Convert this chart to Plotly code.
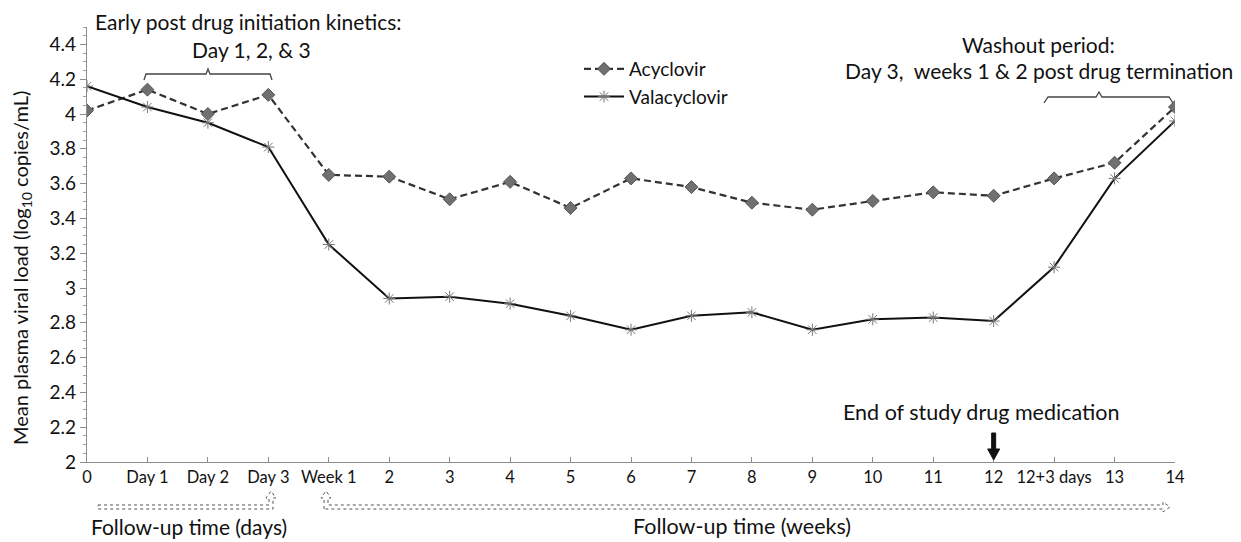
import plotly.graph_objects as go

categories = ["0", "Day 1", "Day 2", "Day 3", "Week 1", "2", "3", "4", "5", "6", "7",
              "8", "9", "10", "11", "12", "12+3 days", "13", "14"]
acyclovir = [4.02, 4.14, 4.00, 4.11, 3.65, 3.64, 3.51, 3.61, 3.46, 3.63, 3.58,
             3.49, 3.45, 3.50, 3.55, 3.53, 3.63, 3.72, 4.04]
valacyclovir = [4.16, 4.04, 3.95, 3.81, 3.25, 2.94, 2.95, 2.91, 2.84, 2.76, 2.84,
                2.86, 2.76, 2.82, 2.83, 2.81, 3.12, 3.63, 3.96]
end_of_medication = "12"

OX, OY = 7, 6  # page offset of the figure
W, H = 1241 - OX, 542 - OY
L, R, T, B = 86, 1174, 25, 460  # page pixel positions of plot area

def px(X):
    return (X - L) / (R - L)

def py(Y):
    return (B - Y) / (B - T)

FONT = "Lato"
fig = go.Figure()
fig.add_trace(go.Scatter(
    x=categories, y=acyclovir, name="Acyclovir", mode="lines+markers",
    line=dict(color="#333333", width=2.2, dash="7px,4px"),
    marker=dict(symbol="diamond", size=10, color="#707070",
                line=dict(color="#555555", width=1))))
fig.add_trace(go.Scatter(
    x=categories, y=valacyclovir, name="Valacyclovir", mode="lines+markers",
    line=dict(color="#111111", width=2),
    marker=dict(symbol="asterisk-open", size=10, color="#777777",
                line=dict(color="#777777", width=1))))

def path(points, close=False):
    s = "M " + " L ".join(f"{px(x):.5f},{py(y):.5f}" for x, y in points)
    return s + (" Z" if close else "")

shapes = []
shapes.append(dict(type="path", xref="paper", yref="paper",
                   path=path([(143, 78), (145, 72), (205, 72), (207, 67), (209, 72), (269, 72), (271, 78)]),
                   line=dict(color="#444444", width=1.3)))
shapes.append(dict(type="path", xref="paper", yref="paper",
                   path=path([(1043, 101), (1047, 95), (1095, 95), (1098, 90), (1101, 95), (1168, 95), (1172, 101)]),
                   line=dict(color="#444444", width=1.3)))
left_arrow = [(97, 503), (268, 503), (268, 496), (265, 496), (270, 489), (275, 496),
              (272, 496), (272, 507), (97, 507)]
right_arrow = [(323, 507), (323, 496), (320, 496), (325, 489), (330, 496), (327, 496),
               (327, 503), (1162, 503), (1162, 500), (1169, 505), (1162, 510), (1162, 507)]
for pts in (left_arrow, right_arrow):
    shapes.append(dict(type="path", xref="paper", yref="paper", path=path(pts, close=True),
                       line=dict(color="#555555", width=1, dash="dot")))

# thick down arrow pointing at end of medication tick
step = (R - L) / (len(categories) - 1)
xi = categories.index(end_of_medication)
def ax_pt(dx_px, Y):
    return f"{xi + dx_px / step:.5f},{py(Y):.5f}"
arrow_pts = [(-2, 431), (2, 431), (2, 447), (6, 447), (0, 458), (-6, 447), (-2, 447)]
shapes.append(dict(type="path", xref="x", yref="paper",
                   path="M " + " L ".join(ax_pt(a, b) for a, b in arrow_pts) + " Z",
                   fillcolor="#111111", line=dict(color="#111111", width=1)))

annotations = [
    dict(text="Early post drug initiation kinetics:", x=px(247), y=py(20), font=dict(size=21)),
    dict(text="Day 1, 2, & 3", x=px(250), y=py(48), font=dict(size=21)),
    dict(text="Washout period:", x=px(1037), y=py(42), font=dict(size=21)),
    dict(text="Day 3,  weeks 1 & 2 post drug termination", x=px(1038), y=py(68), font=dict(size=21)),
    dict(text="End of study drug medication", x=px(980), y=py(410), font=dict(size=21.5)),
    dict(text="Follow-up time (days)", x=px(188), y=py(524), font=dict(size=21)),
    dict(text="Follow-up time (weeks)", x=px(741), y=py(524), font=dict(size=21.5)),
    dict(text="Mean plasma viral load (log<sub>10</sub> copies/mL)", x=px(20), y=py(266),
         textangle=-90, font=dict(size=20)),
]
for a in annotations:
    a.update(xref="paper", yref="paper", showarrow=False, xanchor="center", yanchor="middle")
    a["font"].update(family=FONT, color="#111111")

fig.update_layout(
    width=W, height=H, paper_bgcolor="white", plot_bgcolor="white",
    margin=dict(l=L - OX, r=W - (R - OX), t=T - OY, b=H - (B - OY)),
    font=dict(family=FONT, size=16, color="#111111"),
    showlegend=True,
    legend=dict(x=px(578), y=py(48), xanchor="left", yanchor="top",
                font=dict(family=FONT, size=19), bgcolor="rgba(0,0,0,0)",
                tracegroupgap=10, itemwidth=40),
    shapes=shapes, annotations=annotations,
)
fig.update_xaxes(type="category", categoryorder="array", categoryarray=categories,
                 range=[0, len(categories) - 1], showgrid=False, zeroline=False,
                 showline=True, linecolor="#8c8c8c", linewidth=1.3,
                 ticks="inside", ticklen=5, tickcolor="#8c8c8c",
                 tickfont=dict(family=FONT, size=16.5, color="#111111"))
fig.update_yaxes(range=[2, 4.5], tick0=2, dtick=0.2, showgrid=False, zeroline=False,
                 showline=True, linecolor="#8c8c8c", linewidth=1.3,
                 ticks="outside", ticklen=6, tickcolor="#8c8c8c",
                 minor=dict(dtick=0.05, ticks="outside", ticklen=3, tickcolor="#a0a0a0"),
                 tickfont=dict(family=FONT, size=19, color="#111111"))

fig.write_html("out.html")
